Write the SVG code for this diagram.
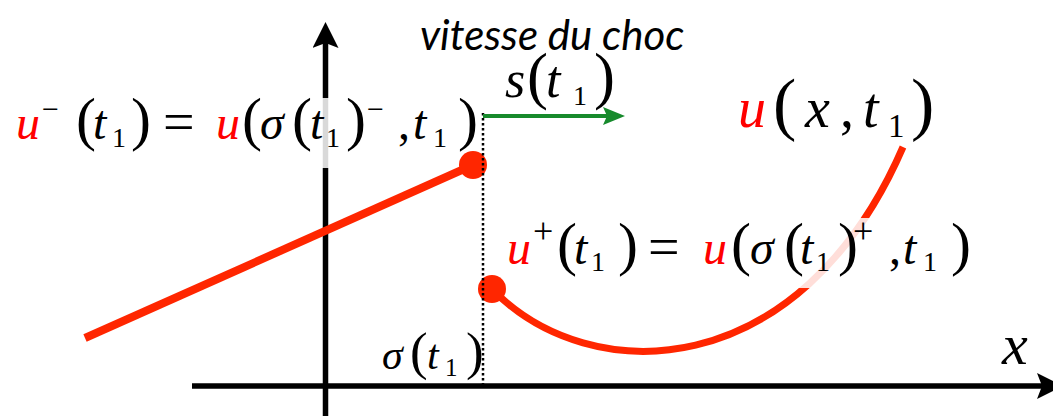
<svg xmlns="http://www.w3.org/2000/svg" width="1053" height="416" viewBox="0 0 1053 416">
<defs>
<marker id="ahead" markerUnits="userSpaceOnUse" viewBox="0 0 26 26" markerWidth="26" markerHeight="26" refX="5" refY="13" orient="auto">
<path d="M0,0 L26,13 L0,26 L5,13 Z" fill="#000"/>
</marker>
<marker id="ghead" markerUnits="userSpaceOnUse" viewBox="0 0 22 18" markerWidth="22" markerHeight="18" refX="4" refY="9" orient="auto">
<path d="M0,0 L22,9 L0,18 L4,9 Z" fill="#178a2c"/>
</marker>
</defs>
<line x1="325.5" y1="416" x2="325.5" y2="43" stroke="#000" stroke-width="5.5" marker-end="url(#ahead)"/>
<line x1="192" y1="386" x2="1042" y2="386" stroke="#000" stroke-width="5.5" marker-end="url(#ahead)"/>
<path stroke="#ff2600" fill="none" stroke-width="7" d="M492,289 C590,390 800,385 903,147"/>
<rect x="10" y="98" width="468" height="70" fill="#fff" fill-opacity="0.85"/>
<rect x="503" y="218" width="465" height="70" fill="#fff" fill-opacity="0.85"/>
<line stroke="#ff2600" stroke-width="8" x1="85" y1="338" x2="473" y2="165"/>
<circle cx="473" cy="165" r="14" fill="#ff2600"/>
<circle cx="492" cy="289" r="14" fill="#ff2600"/>
<g id="connectors">
<line x1="483" y1="113" x2="483" y2="386" stroke="#000" stroke-width="2.5" stroke-dasharray="2.5 2.5"/>
<line x1="483" y1="116" x2="607" y2="116" stroke="#178a2c" stroke-width="4" marker-end="url(#ghead)"/>
</g>
<text x="420" y="50" font-family="Lato" font-size="42"><tspan font-style="italic">vitesse du choc</tspan></text>
<text x="505" y="97" font-family="Liberation Serif" font-size="52"><tspan font-style="italic">s</tspan><tspan x="527" font-size="63">(</tspan><tspan font-style="italic" x="546">t</tspan><tspan font-size="28" x="573" y="105">1</tspan><tspan x="594" y="97" font-size="63">)</tspan></text>
<text x="738" y="127" font-family="Liberation Serif" font-size="56"><tspan font-style="italic" fill="#ff0000">u</tspan><tspan x="773" font-size="70">(</tspan><tspan font-style="italic" x="805">x</tspan><tspan x="840">,</tspan><tspan font-style="italic" x="863">t</tspan><tspan x="888" y="137" font-size="33">1</tspan><tspan x="911" y="127" font-size="70">)</tspan></text>
<text x="16" y="139" font-family="Liberation Serif" font-size="48"><tspan font-style="italic" fill="#ff0000">u</tspan><tspan font-size="30" x="42" y="119">−</tspan><tspan font-size="60" x="76" y="139">(</tspan><tspan font-style="italic" x="93">t</tspan><tspan font-size="28" x="112" y="147">1</tspan><tspan font-size="60" x="131" y="139">)</tspan><tspan x="163" font-size="56" y="141">=</tspan><tspan font-style="italic" fill="#ff0000" x="216" y="139">u</tspan><tspan font-size="60" x="242">(</tspan><tspan font-style="italic" x="260">σ</tspan><tspan font-size="60" x="292">(</tspan><tspan font-style="italic" x="310">t</tspan><tspan font-size="28" x="326" y="147">1</tspan><tspan font-size="60" x="346" y="139">)</tspan><tspan font-size="30" x="367" y="119">−</tspan><tspan x="398" y="139">,</tspan><tspan font-style="italic" x="413">t</tspan><tspan font-size="28" x="433" y="147">1</tspan><tspan font-size="60" x="458" y="139">)</tspan></text>
<text x="507" y="264" font-family="Liberation Serif" font-size="48"><tspan font-style="italic" fill="#ff0000">u</tspan><tspan x="533" y="243" font-size="36">+</tspan><tspan font-size="60" x="557" y="264">(</tspan><tspan font-style="italic" x="574">t</tspan><tspan font-size="28" x="591" y="271">1</tspan><tspan font-size="60" x="618" y="264">)</tspan><tspan x="648" font-size="56" y="266">=</tspan><tspan font-style="italic" fill="#ff0000" x="703" y="264">u</tspan><tspan font-size="60" x="731">(</tspan><tspan font-style="italic" x="750">σ</tspan><tspan font-size="60" x="784">(</tspan><tspan font-style="italic" x="800">t</tspan><tspan font-size="28" x="816" y="271">1</tspan><tspan font-size="60" x="838" y="264">)</tspan><tspan x="853" y="243" font-size="36">+</tspan><tspan x="889" y="264">,</tspan><tspan font-style="italic" x="903">t</tspan><tspan font-size="28" x="923" y="271">1</tspan><tspan font-size="60" x="951" y="264">)</tspan></text>
<text x="382" y="369" font-family="Liberation Serif" font-size="42"><tspan font-style="italic">σ</tspan><tspan x="410" font-size="53">(</tspan><tspan font-style="italic" x="427">t</tspan><tspan x="445" y="376" font-size="25">1</tspan><tspan x="466" y="369" font-size="53">)</tspan></text>
<text x="1002" y="364" font-family="Liberation Serif" font-size="58"><tspan font-style="italic">x</tspan></text>
</svg>
